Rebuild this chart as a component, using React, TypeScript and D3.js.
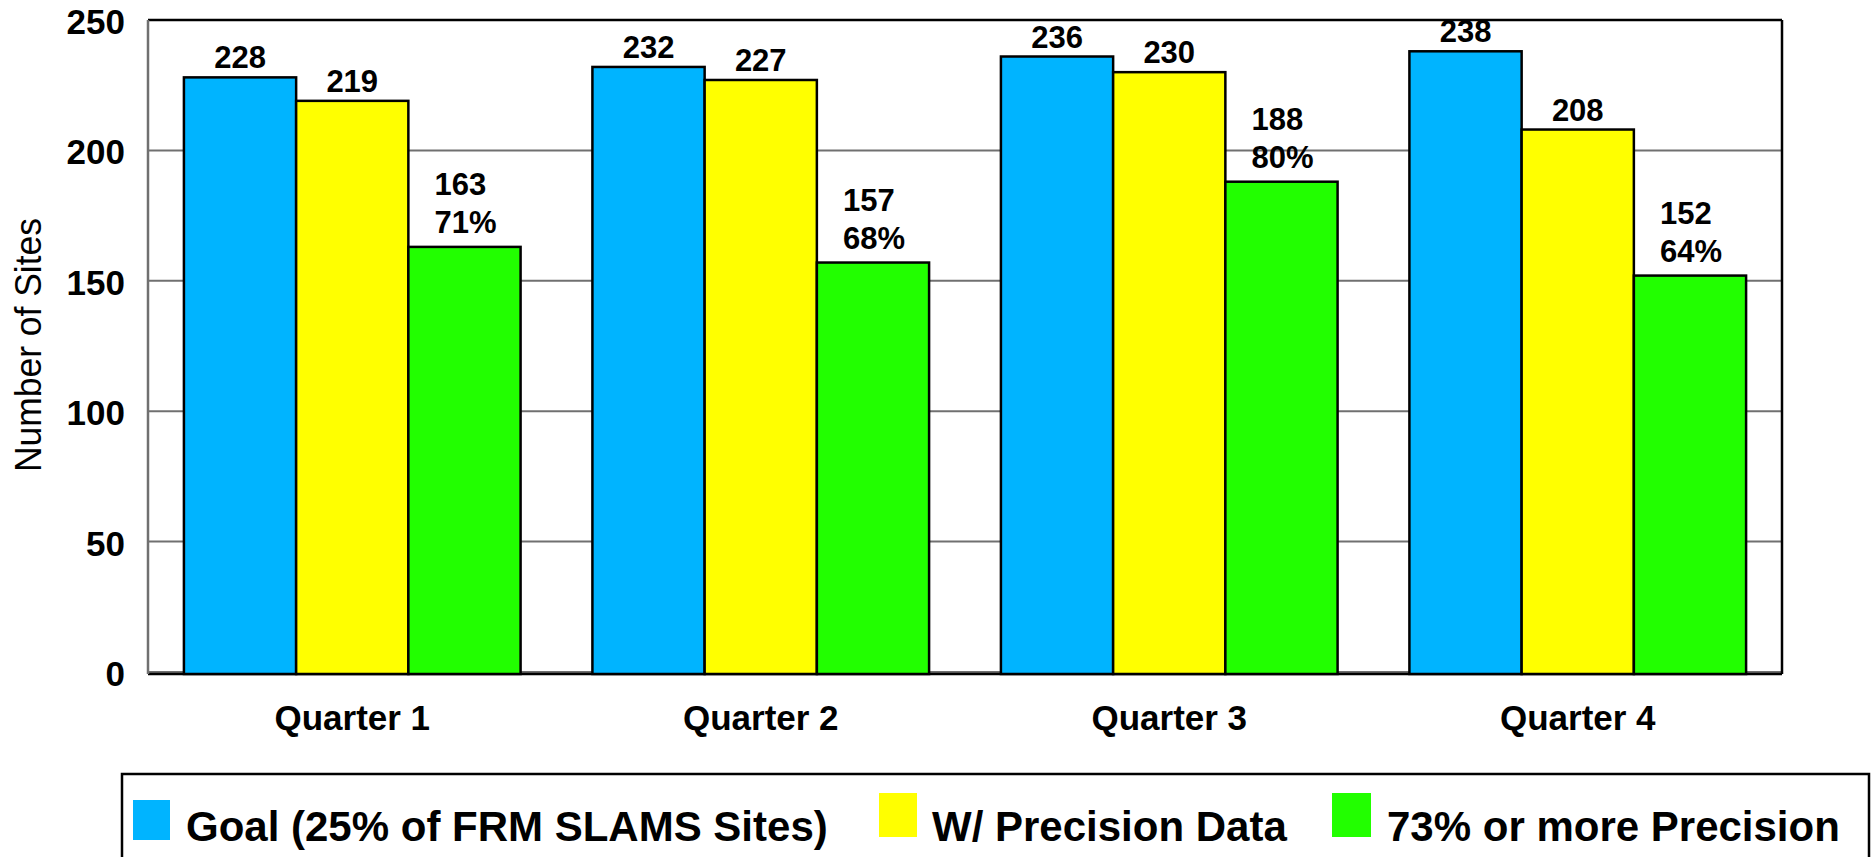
import React from 'react';
import * as d3 from 'd3';

const quarters = ['Quarter 1', 'Quarter 2', 'Quarter 3', 'Quarter 4'];
const seriesNames = ['Goal (25% of FRM SLAMS Sites)', 'W/ Precision Data', '73% or more Precision'];
const goalValues = [228, 232, 236, 238];
const precisionDataValues = [219, 227, 230, 208];
const highPrecisionValues = [163, 157, 188, 152];
const highPrecisionPct = ['71%', '68%', '80%', '64%'];
const yTicks = [0, 50, 100, 150, 200, 250];
const seriesColors = ['#00B4FF', '#FFFF00', '#22FF00'];

const W = 1871;
const H = 857;
const plot = { left: 148, right: 1782, top: 20, bottom: 672, frameBottom: 674 };
const FONT = "'Liberation Sans', Arial, Helvetica, sans-serif";
const legendLayout = [
  { sx: 133, sy: 800, sw: 37, sh: 40, tx: 186 },
  { sx: 879, sy: 793, sw: 38, sh: 44, tx: 932 },
  { sx: 1332, sy: 793, sw: 39, sh: 44, tx: 1387 },
];

export default function App() {
  const seriesValues = [goalValues, precisionDataValues, highPrecisionValues];
  const y = d3.scaleLinear().domain([0, 250]).range([plot.bottom, plot.top]);
  const x0 = d3.scaleBand<string>().domain(quarters).range([plot.left, plot.right]).padding(0);
  const x1 = d3
    .scaleBand<number>()
    .domain([0, 1, 2])
    .range([0, x0.bandwidth()])
    .paddingInner(0)
    .paddingOuter(0.32);
  const bw = x1.bandwidth();

  return (
    <svg
      width={W}
      height={H}
      viewBox={`0 0 ${W} ${H}`}
      style={{ position: 'absolute', left: 0, top: 0, display: 'block', background: '#fff' }}
      fontFamily={FONT}
    >
      <rect x={0} y={0} width={W} height={H} fill="#fff" />
      {yTicks.map((t) => (
        <line
          key={'g' + t}
          x1={plot.left}
          x2={plot.right}
          y1={y(t)}
          y2={y(t)}
          stroke="#707070"
          strokeWidth={2}
        />
      ))}
      <line x1={plot.left} x2={plot.right} y1={plot.top} y2={plot.top} stroke="#000" strokeWidth={2.5} />
      <line x1={plot.right} x2={plot.right} y1={plot.top} y2={plot.frameBottom} stroke="#000" strokeWidth={2.5} />
      <line x1={plot.left} x2={plot.right} y1={plot.frameBottom} y2={plot.frameBottom} stroke="#000" strokeWidth={2.5} />
      <line x1={plot.left} x2={plot.left} y1={plot.top} y2={plot.frameBottom} stroke="#707070" strokeWidth={2.5} />

      {quarters.map((q, qi) =>
        seriesValues.map((vals, si) => {
          const bx = (x0(q) as number) + (x1(si) as number);
          const v = vals[qi];
          return (
            <rect
              key={q + si}
              x={bx}
              y={y(v)}
              width={bw}
              height={plot.frameBottom - y(v)}
              fill={seriesColors[si]}
              stroke="#000"
              strokeWidth={2.5}
            />
          );
        })
      )}

      {quarters.map((q, qi) =>
        seriesValues.map((vals, si) => {
          const cx = (x0(q) as number) + (x1(si) as number) + bw / 2;
          const v = vals[qi];
          if (si < 2) {
            return (
              <text
                key={'l' + q + si}
                x={cx}
                y={y(v) - 9}
                textAnchor="middle"
                fontSize={31}
                fontWeight="bold"
                fill="#000"
              >
                {v}
              </text>
            );
          }
          return (
            <text key={'l' + q + si} fontSize={31} fontWeight="bold" fill="#000">
              <tspan x={cx - 30} y={y(v) - 52}>
                {v}
              </tspan>
              <tspan x={cx - 30} y={y(v) - 14}>
                {highPrecisionPct[qi]}
              </tspan>
            </text>
          );
        })
      )}

      {yTicks.map((t) => (
        <text
          key={'t' + t}
          x={125}
          y={y(t) + 14}
          textAnchor="end"
          fontSize={35}
          fontWeight="bold"
          fill="#000"
        >
          {t}
        </text>
      ))}

      <text
        transform={`translate(41, ${345}) rotate(-90)`}
        textAnchor="middle"
        fontSize={36}
        textLength={254}
        lengthAdjust="spacingAndGlyphs"
        fill="#000"
      >
        Number of Sites
      </text>

      {quarters.map((q) => (
        <text
          key={'x' + q}
          x={(x0(q) as number) + x0.bandwidth() / 2}
          y={730}
          textAnchor="middle"
          fontSize={35}
          fontWeight="bold"
          fill="#000"
        >
          {q}
        </text>
      ))}

      <rect x={122} y={774} width={1747} height={120} fill="#fff" stroke="#000" strokeWidth={2.5} />
      {seriesNames.map((name, i) => {
        const L = legendLayout[i];
        return (
          <g key={'lg' + i}>
            <rect x={L.sx} y={L.sy} width={L.sw} height={L.sh} fill={seriesColors[i]} />
            <text x={L.tx} y={841} fontSize={42} fontWeight="bold" fill="#000">
              {name}
            </text>
          </g>
        );
      })}
    </svg>
  );
}
